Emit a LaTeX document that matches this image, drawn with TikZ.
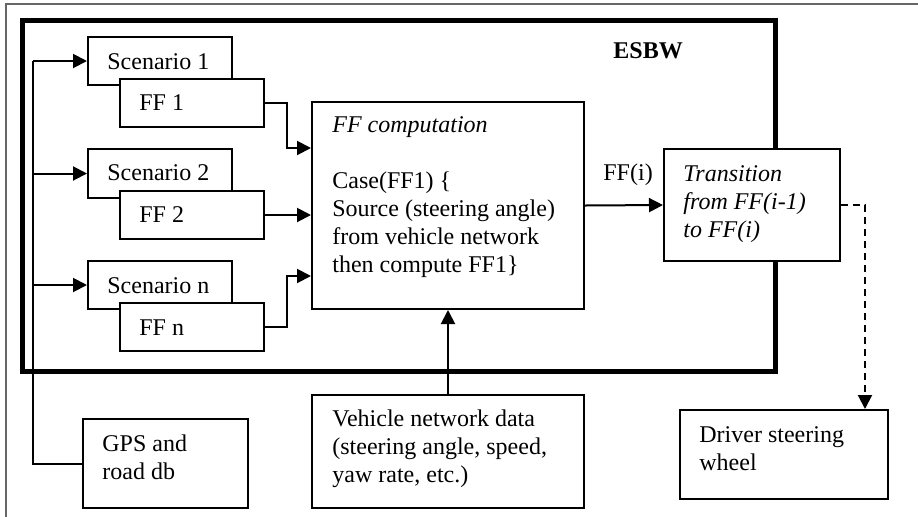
\documentclass[tikz,border=0pt]{standalone}
\usepackage{fontspec}
\setmainfont{Liberation Serif}
\usetikzlibrary{arrows.meta,calc}
\begin{document}
\begin{tikzpicture}[x=0.5pt,y=-0.5pt,
  box/.style={draw, line width=1pt, fill=white, inner sep=0pt, anchor=north west},
  txt/.style={inner sep=0pt, anchor=base west, align=left, font=\fontsize{12}{14}\selectfont},
  arr/.style={line width=1pt, -{Triangle[length=7pt,width=7pt]}},
  esbw/.style={draw, line width=2.5pt},
  frame/.style={draw=black!60, line width=0.6pt}]
\useasboundingbox (0,0) rectangle (918,516);
\clip (0,0) rectangle (918,516);
\draw[frame] (6,4) rectangle (930,530);
\draw[esbw] (22,20) rectangle (775,371);
\node[txt, font=\fontsize{12}{14}\selectfont\bfseries] (esbwlbl) at (613,58) {ESBW};
% scenario boxes
\node[box, minimum width=72pt, minimum height=24pt] (sc1) at (87,36) {};
\node[box, minimum width=72pt, minimum height=24pt] (ff1) at (119,78) {};
\node[box, minimum width=72pt, minimum height=24.5pt] (sc2) at (87,148) {};
\node[box, minimum width=72pt, minimum height=24pt] (ff2) at (119,190) {};
\node[box, minimum width=72pt, minimum height=24pt] (scn) at (87,260) {};
\node[box, minimum width=72pt, minimum height=24pt] (ffn) at (119,302) {};
\node[txt] (t_sc1) at (107,69) {Scenario 1};
\node[txt] (t_ff1) at (139,110) {FF 1};
\node[txt] (t_sc2) at (107,180) {Scenario 2};
\node[txt] (t_ff2) at (139,222) {FF 2};
\node[txt] (t_scn) at (107,293) {Scenario n};
\node[txt] (t_ffn) at (139,335) {FF n};
% other boxes
\node[box, minimum width=82.5pt, minimum height=44.5pt] (gps) at (82,418) {};
\node[txt] (t_gps) at (102,479) {GPS and\\road db};
\node[box, minimum width=136pt, minimum height=103.5pt] (ffc) at (311,101) {};
\node[txt] (t_ffc) at (332,272) {\itshape FF computation\\[14pt]Case(FF1) \{\\Source (steering angle)\\from vehicle network\\then compute FF1\}};
\node[box, minimum width=136pt, minimum height=56.5pt] (veh) at (311,394) {};
\node[txt] (t_veh) at (332,482) {Vehicle network data\\(steering angle, speed,\\yaw rate, etc.)};
\node[box, minimum width=88pt, minimum height=56pt] (trans) at (663,148) {};
\node[txt] (t_trans) at (683,237) {\itshape Transition\\\itshape from FF(i-1)\\\itshape to FF(i)};
\node[box, minimum width=104pt, minimum height=44.5pt] (driver) at (679,409) {};
\node[txt] (t_driver) at (699,470) {Driver steering\\wheel};
% bus line from GPS
\coordinate (busx) at (33,0);
\draw[line width=1pt] (gps.west) -| (busx |- sc1.west);
\draw[arr] (busx |- sc1.west) -- (sc1.west);
\draw[arr] (busx |- sc2.west) -- (sc2.west);
\draw[arr] (busx |- scn.west) -- (scn.west);
% FF to computation
\coordinate (jx) at (287,0);
\draw[arr] (ff1.east) -| (jx |- 0,148) -- (ffc.west |- 0,148);
\draw[arr] (ff2.east) -- (ffc.west |- ff2.east);
\draw[arr] (ffn.east) -| (jx |- 0,276) -- (ffc.west |- 0,276);
% vehicle data
\draw[arr] (veh.north) -- (ffc.south);
% FF(i)
\draw[arr] (ffc.east) -- (trans.west);
\node[txt] (t_ffi) at (603,180) {FF(i)};
% dashed to driver
\draw[arr, dash pattern=on 3.5pt off 2.5pt] (trans.east) -| ($(driver.north east)+(-24,0)$);
\end{tikzpicture}
\end{document}
